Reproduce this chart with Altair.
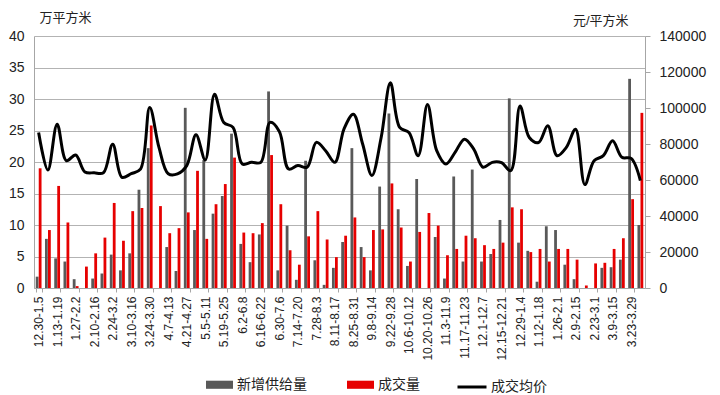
import altair as alt
import pandas as pd

weeks = [
    "12.30-1.5", "1.6-1.12", "1.13-1.19", "1.20-1.26", "1.27-2.2", "2.3-2.9",
    "2.10-2.16", "2.17-2.23", "2.24-3.2", "3.3-3.9", "3.10-3.16", "3.17-3.23",
    "3.24-3.30", "3.31-4.6", "4.7-4.13", "4.14-4.20", "4.21-4.27", "4.28-5.4",
    "5.5-5.11", "5.12-5.18", "5.19-5.25", "5.26-6.1", "6.2-6.8", "6.9-6.15",
    "6.16-6.22", "6.23-6.29", "6.30-7.6", "7.7-7.13", "7.14-7.20", "7.21-7.27",
    "7.28-8.3", "8.4-8.10", "8.11-8.17", "8.18-8.24", "8.25-8.31", "9.1-9.7",
    "9.8-9.14", "9.15-9.21", "9.22-9.28", "9.29-10.5", "10.6-10.12", "10.13-10.19",
    "10.20-10.26", "10.27-11.2", "11.3-11.9", "11.10-11.16", "11.17-11.23", "11.24-11.30",
    "12.1-12.7", "12.8-12.14", "12.15-12.21", "12.22-12.28", "12.29-1.4", "1.5-1.11",
    "1.12-1.18", "1.19-1.25", "1.26-2.1", "2.2-2.8", "2.9-2.15", "2.16-2.22",
    "2.23-3.1", "3.2-3.8", "3.9-3.15", "3.16-3.22", "3.23-3.29", "3.30-4.5",
]

label_weeks = [
    "12.30-1.5", "1.13-1.19", "1.27-2.2", "2.10-2.16", "2.24-3.2", "3.10-3.16",
    "3.24-3.30", "4.7-4.13", "4.21-4.27", "5.5-5.11", "5.19-5.25", "6.2-6.8",
    "6.16-6.22", "6.30-7.6", "7.14-7.20", "7.28-8.3", "8.11-8.17", "8.25-8.31",
    "9.8-9.14", "9.22-9.28", "10.6-10.12", "10.20-10.26", "11.3-11.9", "11.17-11.23",
    "12.1-12.7", "12.15-12.21", "12.29-1.4", "1.12-1.18", "1.26-2.1", "2.9-2.15",
    "2.23-3.1", "3.9-3.15", "3.23-3.29",
]

# 新增供给量 (万平方米)
supply = [
    1.8, 7.8, 4.7, 4.2, 1.4, 0.0, 1.5, 2.3, 5.3, 2.8, 5.5, 15.6,
    22.2, 0.0, 6.5, 2.7, 28.6, 9.2, 20.3, 11.8, 14.6, 24.5, 7.0, 4.1,
    8.5, 31.2, 2.8, 9.9, 1.3, 20.2, 4.4, 0.5, 3.2, 7.3, 22.2, 6.5,
    2.8, 16.1, 27.7, 12.5, 3.5, 17.3, 0.0, 8.1, 1.5, 17.7, 4.2, 18.8,
    4.2, 5.4, 10.8, 30.1, 7.2, 5.9, 1.0, 9.8, 9.2, 3.7, 1.4, 0.0,
    0.0, 3.2, 3.3, 4.5, 33.2, 10.0,
]

# 成交量 (万平方米)
deals = [
    19.0, 9.2, 16.2, 10.4, 0.3, 3.4, 5.5, 8.0, 13.5, 7.5, 12.2, 12.7,
    25.8, 13.0, 8.7, 9.5, 12.0, 18.6, 7.8, 13.3, 16.5, 20.7, 8.8, 8.7,
    10.3, 21.1, 13.3, 6.0, 3.7, 8.2, 12.2, 7.7, 4.9, 8.3, 11.2, 4.9,
    9.2, 9.3, 16.6, 9.6, 4.2, 8.9, 11.9, 9.9, 5.2, 6.2, 8.3, 7.9,
    6.8, 6.2, 7.2, 12.8, 12.5, 5.7, 6.2, 4.2, 6.2, 6.2, 4.5, 0.4,
    3.9, 4.0, 6.2, 7.9, 14.1, 27.8,
]

# 成交均价 (元/平方米)
price = [
    86400, 65500, 91000, 70700, 73900, 64500, 64000, 64000, 79900, 61500, 63500, 66000,
    100300, 78100, 63500, 63400, 68000, 85100, 71100, 107600, 91900, 89200, 68900, 69800,
    69800, 92000, 87000, 66100, 68000, 67100, 80900, 76300, 69800, 88500, 96500, 80000,
    62500, 83600, 114000, 89200, 86400, 73500, 102000, 76300, 68900, 75500, 82700, 77200,
    67100, 69800, 69600, 65200, 101100, 83600, 80800, 90100, 73500, 78100, 88200, 57500,
    70700, 73500, 81800, 72600, 72000, 59700,
]

series_names = ["新增供给量", "成交量"]
line_name = "成交均价"
left_ticks = [0, 5, 10, 15, 20, 25, 30, 35, 40]
right_ticks = [0, 20000, 40000, 60000, 80000, 100000, 120000, 140000]

n = len(weeks)
bars_df = pd.DataFrame({
    "week": weeks + weeks,
    "series": [series_names[0]] * n + [series_names[1]] * n,
    "value": supply + deals,
})
line_df = pd.DataFrame({"week": weeks, "price": price, "name": [line_name] * n})

FONT = "Liberation Sans, Noto Sans CJK SC, sans-serif"
AXIS_GREY = "#a6a6a6"

x_axis = alt.Axis(
    values=label_weeks, labelAngle=-90, title=None, tickBand="extent",
    labelFontSize=12, labelFont=FONT, labelColor="#222222",
    tickSize=4, labelPadding=4, domainColor=AXIS_GREY, tickColor=AXIS_GREY,
    grid=False,
)
x_scale = alt.Scale(domain=weeks, paddingInner=0.35, paddingOuter=0.175)

bars = alt.Chart(bars_df).mark_bar(size=2.8).encode(
    x=alt.X("week:N", sort=weeks, scale=x_scale, axis=x_axis),
    xOffset=alt.XOffset("series:N", sort=series_names,
                        scale=alt.Scale(domain=series_names, paddingInner=0, paddingOuter=0)),
    y=alt.Y("value:Q", scale=alt.Scale(domain=[0, 40], nice=False),
            axis=alt.Axis(values=left_ticks, title="万平方米", titleAngle=0,
                          titleX=5, titleY=-19, titleAlign="left", titleBaseline="middle",
                          titleFontSize=13, titleFontWeight="normal", titleFont=FONT,
                          titleColor="#222222",
                          labelFontSize=14, labelFont=FONT, labelColor="#222222",
                          ticks=False, labelPadding=10, domainColor=AXIS_GREY,
                          grid=True, gridColor="#b3b3b3", gridWidth=1)),
    color=alt.Color("series:N", scale=alt.Scale(domain=series_names, range=["#595959", "#e60000"]),
                    legend=alt.Legend(orient="none", legendX=172, legendY=335,
                                      direction="horizontal", title=None,
                                      symbolType="M-1,-0.3H1V0.3H-1Z", symbolSize=729,
                                      symbolStrokeWidth=0, symbolOpacity=1,
                                      labelFontSize=14, labelFont=FONT, labelColor="#222222",
                                      labelOffset=4, columnPadding=40, padding=0)),
)

line = alt.Chart(line_df).mark_line(interpolate="catmull-rom", strokeWidth=3).encode(
    x=alt.X("week:N", sort=weeks, scale=x_scale),
    y=alt.Y("price:Q", scale=alt.Scale(domain=[0, 140000], nice=False),
            axis=alt.Axis(orient="right", values=right_ticks, title="元/平方米", titleAngle=0,
                          titleX=-17, titleY=-16, titleAlign="right", titleBaseline="middle",
                          titleFontSize=13, titleFontWeight="normal", titleFont=FONT,
                          titleColor="#222222", format="d",
                          labelFontSize=14, labelFont=FONT, labelColor="#222222",
                          tickSize=5, tickColor=AXIS_GREY, labelPadding=9,
                          domainColor=AXIS_GREY, grid=False)),
    stroke=alt.Stroke("name:N", scale=alt.Scale(domain=[line_name], range=["#000000"]),
                      legend=alt.Legend(orient="none", legendX=422, legendY=335,
                                        direction="horizontal", title=None,
                                        symbolType="stroke", symbolSize=841,
                                        symbolStrokeWidth=3,
                                        labelFontSize=14, labelFont=FONT, labelColor="#222222",
                                        labelOffset=3, padding=0)),
)

chart = alt.layer(bars, line).resolve_scale(y="independent").properties(
    width=611, height=252,
    autosize=alt.AutoSizeParams(type="none"),
    padding={"left": 26, "top": 28, "right": 67, "bottom": 105},
    background="white",
).configure_view(stroke=None)

chart.save("out.html", embed_options={"renderer": "svg", "actions": False})
